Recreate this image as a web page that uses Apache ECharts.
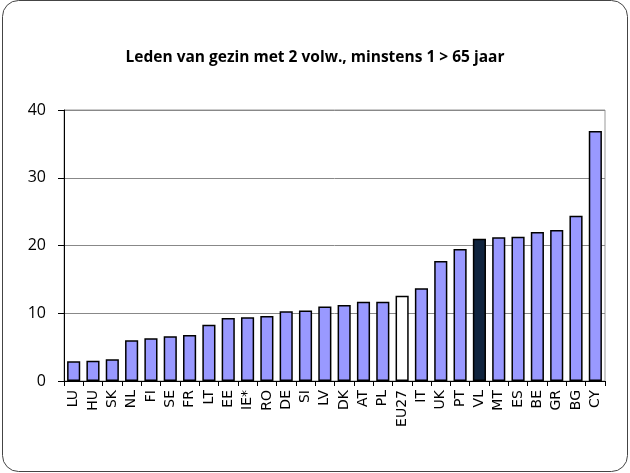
<!DOCTYPE html>
<html>
<head>
<meta charset="utf-8">
<script src="https://cdn.jsdelivr.net/npm/echarts@6/dist/echarts.min.js"></script>
<style>
  html, body { margin: 0; padding: 0; background: #fff; }
  #chart { width: 630px; height: 473px; }
</style>
</head>
<body>
<div id="chart"></div>
<script>
// landen, oplopend gesorteerd
const countries = ["LU", "HU", "SK", "NL", "FI", "SE", "FR", "LT", "EE", "IE*", "RO", "DE", "SI", "LV", "DK",
  "AT", "PL", "EU27", "IT", "UK", "PT", "VL", "MT", "ES", "BE", "GR", "BG", "CY"];
const values = [2.9, 3.0, 3.2, 6.0, 6.3, 6.6, 6.8, 8.3, 9.3, 9.4, 9.6, 10.3, 10.4, 11.0, 11.2,
  11.7, 11.7, 12.6, 13.7, 17.7, 19.5, 21.0, 21.2, 21.3, 22.0, 22.3, 24.4, 36.9];
const yTicks = [0, 10, 20, 30, 40];

// speciale kleuren
const barColor = (name) => {
  if (name === "EU27") return "#ffffff";
  if (name === "VL") return "#10243e";
  return "#9999ff";
};

var chart = echarts.init(document.getElementById("chart"));

var option = {
  animation: false,
  title: {
    text: "Leden van gezin met 2 volw., minstens 1 > 65 jaar",
    left: "center",
    top: 45,
    textStyle: { fontFamily: "Open Sans", fontWeight: "bold", fontSize: 15.5, color: "#000" },
  },
  graphic: [
    {
      type: "rect",
      shape: { x: 2.5, y: 0.5, width: 625, height: 471, r: 16 },
      style: { fill: "none", stroke: "#444", lineWidth: 1 },
      z: -1,
    },
  ],
  grid: {
    left: 64, right: 25, top: 110, bottom: 92,
    show: true, borderColor: "#999", borderWidth: 1,
  },
  xAxis: {
    type: "category",
    data: countries,
    axisLine: { lineStyle: { color: "#000" } },
    axisTick: { show: true, alignWithLabel: false, length: 5, lineStyle: { color: "#000" } },
    axisLabel: {
      rotate: 90, interval: 0, margin: 9,
      fontFamily: "DejaVu Sans", fontSize: 14, color: "#000",
    },
  },
  yAxis: {
    type: "value",
    min: yTicks[0], max: yTicks[yTicks.length - 1], interval: 10,
    axisLine: { show: true, lineStyle: { color: "#000" } },
    axisTick: { show: true, length: 6, lineStyle: { color: "#000" } },
    axisLabel: { fontFamily: "Open Sans", fontSize: 16, color: "#000", margin: 18 },
    splitLine: { lineStyle: { color: "#888", width: 1 } },
  },
  series: [
    {
      type: "bar",
      barCategoryGap: "32%",
      data: values.map((v, i) => ({
        value: v,
        itemStyle: { color: barColor(countries[i]) },
      })),
      itemStyle: { borderColor: "#000", borderWidth: 1.5 },
    },
  ],
};

chart.setOption(option);
</script>
</body>
</html>
